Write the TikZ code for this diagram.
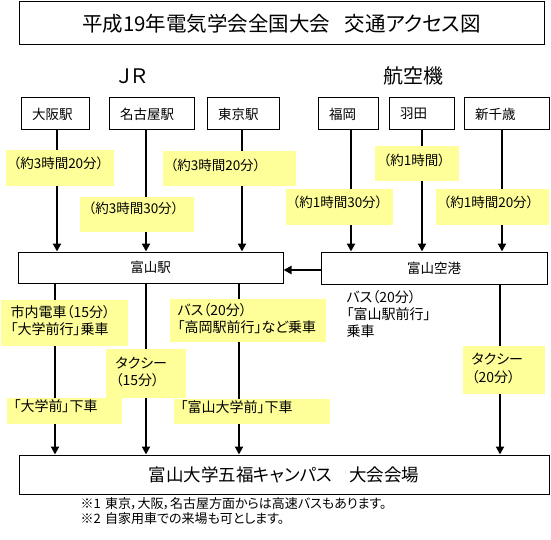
\documentclass[tikz,border=0pt]{standalone}
\usepackage{fontspec}
\setmainfont{Noto Sans CJK JP}[RawFeature=+palt]
\usetikzlibrary{arrows.meta}

\definecolor{memo}{HTML}{FFFF99}

\begin{document}
\begin{tikzpicture}[x=1pt,y=-1pt,line width=1pt,
  box/.style={draw,line width=1pt,inner sep=0pt},
  stn/.style={box,minimum height=32pt,inner xsep=11pt,align=left,font=\fontsize{13.5}{16}\selectfont},
  flow/.style={line width=2pt,-{Triangle[width=8pt,length=8pt]}},
  memo/.style={fill=memo,anchor=north west,align=left,inner ysep=0pt,font=\fontsize{13.5}{16}\selectfont},
  memo2/.style={memo,font=\fontsize{14}{16.5}\selectfont}]
  \useasboundingbox (0,0) rectangle (551,540);

  % heading and the two groups
  \node[box,minimum width=525pt,minimum height=43pt,font=\fontsize{20.5}{24}\selectfont] (title) at (281.5,23.5) {平成19年電気学会全国大会\hspace{0.7em}交通アクセス図};
  \node[font=\fontsize{20}{24}\selectfont] (jr) at (133,76) {ＪＲ};
  \node[font=\fontsize{20}{24}\selectfont] (air) at (413,76) {航空機};

  % departure points
  \node[stn,text width=46pt] (osaka) at (55,114) {大阪駅};
  \node[stn,text width=63pt] (nagoya) at (151.5,114) {名古屋駅};
  \node[stn,text width=50pt] (tokyo) at (243,114) {東京駅};
  \node[stn,text width=38pt] (fukuoka) at (348,114) {福岡};
  \node[stn,text width=43pt] (haneda) at (421.5,114) {羽田};
  \node[stn,text width=63pt] (chitose) at (506.5,114) {新千歳};

  % arrival in Toyama, and the venue
  \node[box,minimum width=265pt,minimum height=31pt,font=\fontsize{13.5}{16}\selectfont] (toyama) at (150.5,267.5) {富山駅};
  \node[box,minimum width=226pt,minimum height=32pt,font=\fontsize{13.5}{16}\selectfont] (airport) at (434,268) {富山空港};
  \node[box,minimum width=530pt,minimum height=39pt,font=\fontsize{17.5}{20}\selectfont] (venue) at (284,474.5) {富山大学五福キャンパス　大会会場};

  % routes to Toyama
  \draw[flow] ([xshift=2pt]osaka.south) -- ([xshift=2pt]osaka.south |- toyama.north);
  \draw[flow] ([xshift=-5.5pt]nagoya.south) -- ([xshift=-5.5pt]nagoya.south |- toyama.north);
  \draw[flow] ([xshift=-1pt]tokyo.south) -- ([xshift=-1pt]tokyo.south |- toyama.north);
  \draw[flow] ([xshift=3pt]fukuoka.south) -- ([xshift=3pt]fukuoka.south |- airport.north);
  \draw[flow] ([xshift=0.5pt]haneda.south) -- ([xshift=0.5pt]haneda.south |- airport.north);
  \draw[flow] ([xshift=-4.5pt]chitose.south) -- ([xshift=-4.5pt]chitose.south |- airport.north);
  \draw[flow] ([yshift=-2pt]airport.west) -- ([yshift=-2pt]airport.west -| toyama.east);

  % routes to the venue
  \draw[flow] (osaka.south |- toyama.south) -- (osaka.south |- venue.north);
  \draw[flow] ([xshift=-5.5pt]nagoya.south |- toyama.south) -- ([xshift=-5.5pt]nagoya.south |- venue.north);
  \draw[flow] ([xshift=-4pt]tokyo.south |- toyama.south) -- ([xshift=-4pt]tokyo.south |- venue.north);
  \draw[flow] ([xshift=-6.5pt]chitose.south |- airport.south) -- ([xshift=-6.5pt]chitose.south |- venue.north);

  % travel times
  \node[memo,inner xsep=8pt,text width=92pt,text height=18pt,text depth=18pt] (t1) at (5,150) {（約3時間20分）};
  \node[memo,inner xsep=9pt,text width=96pt,text height=17pt,text depth=18pt] (t2) at (79,196) {（約3時間30分）};
  \node[memo,inner xsep=8pt,text width=117pt,text height=19pt,text depth=16pt] (t3) at (162,151) {（約3時間20分）};
  \node[memo,inner xsep=9pt,text width=66pt,text height=19pt,text depth=16pt] (t4) at (374,146) {（約1時間）};
  \node[memo,inner xsep=7pt,text width=93pt,text height=18pt,text depth=17pt] (t5) at (285,189) {（約1時間30分）};
  \node[memo,inner xsep=8pt,text width=97pt,text height=18pt,text depth=17pt] (t6) at (435,189) {（約1時間20分）};

  % local transport
  \node[memo2,inner xsep=10pt,text width=107pt,text height=18pt,text depth=28pt] (tram) at (0,299) {市内電車（15分）\\「大学前行」乗車};
  \node[memo2,inner xsep=10pt,text width=60pt,text height=20pt,text depth=29pt] (taxi1) at (105,348) {タクシー\\（15分）};
  \node[memo2,inner xsep=8pt,text width=140pt,text height=17pt,text depth=26pt] (bus1) at (169,298) {バス（20分）\\「高岡駅前行」など乗車};
  \node[memo2,inner xsep=7pt,text width=101pt,text height=14pt,text depth=12pt] (off1) at (6,397) {「大学前」下車};
  \node[memo2,inner xsep=7pt,text width=142pt,text height=14pt,text depth=11pt] (off2) at (173,398) {「富山大学前」下車};
  \node[memo2,inner xsep=9pt,text width=64pt,text height=19pt,text depth=29pt,font=\fontsize{14}{18}\selectfont] (taxi2) at (462,345) {タクシー\\（20分）};
  \node[anchor=north west,align=left,inner sep=0pt,text width=110pt,text height=12pt,font=\fontsize{14}{17}\selectfont] (bus2) at (346,290) {バス（20分）\\「富山駅前行」\\乗車};

  % remarks
  \node[anchor=north west,align=left,inner sep=0pt,text width=330pt,text height=11pt,font=\fontsize{13}{14.5}\selectfont] (notes) at (80,497) {※1 東京，大阪，名古屋方面からは高速バスもあります。\\※2 自家用車での来場も可とします。};
\end{tikzpicture}
\end{document}
